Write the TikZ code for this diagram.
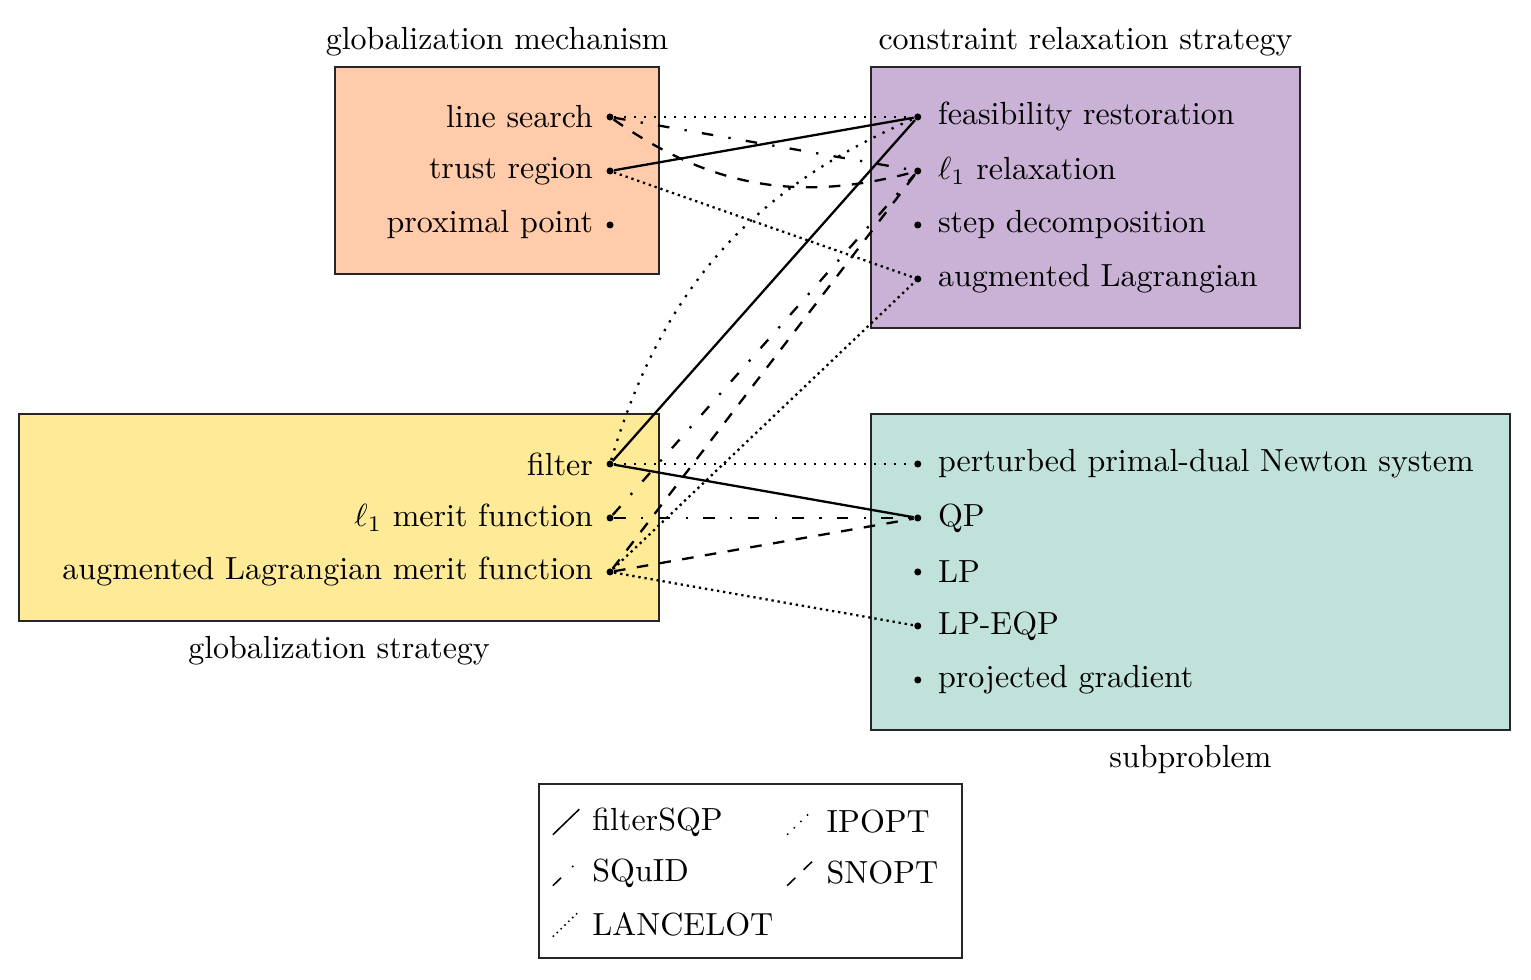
\documentclass[tikz,border=0pt]{standalone}
\usetikzlibrary{positioning}

\definecolor{mechcol}{HTML}{FFCBAA}
\definecolor{relaxcol}{HTML}{CAB2D6}
\definecolor{stratcol}{HTML}{FFEA98}
\definecolor{subcol}{HTML}{C1E1DB}

\tikzset{
  dot/.style={circle, fill, inner sep=0pt, minimum size=2.2pt},
  box/.style={draw=black!85, line width=0.5pt},
  link/.style={line width=0.72pt},
  legline/.style={line width=0.48pt},
  sqp/.style={solid},
  squid/.style={dash pattern=on 3.6pt off 4.8pt on \pgflinewidth off 4.8pt},
  lancelot/.style={dash pattern=on \pgflinewidth off 1.2pt},
  ipopt/.style={dash pattern=on \pgflinewidth off 2.4pt},
  snopt/.style={dash pattern=on 3.6pt off 3.6pt},
}

\begin{document}
\begin{tikzpicture}[node distance=0.593cm]
  \useasboundingbox (0,0) rectangle (16.815,-10.763);

  % the four boxes
  \draw[box, fill=mechcol] (3.679,-0.736) rectangle (7.238,-3.009);
  \draw[box, fill=relaxcol] (9.566,-0.736) rectangle (14.278,-3.602);
  \draw[box, fill=stratcol] (0.209,-4.547) rectangle (7.238,-6.820);
  \draw[box, fill=subcol] (9.566,-4.547) rectangle (16.584,-8.018);

  \node[above] (mechtitle) at (5.459,-0.736) {globalization mechanism};
  \node[above] (relaxtitle) at (11.922,-0.736) {constraint relaxation strategy};
  \node[below=1.2pt] (strattitle) at (3.724,-6.820) {globalization strategy};
  \node[below=1.2pt] (subtitle) at (13.075,-8.018) {subproblem};

  % globalization mechanism
  \node[dot, label={[label distance=0.5pt]left:line search}] (ls) at (6.70,-1.285) {};
  \node[dot, label={[label distance=0.5pt]left:trust region}] (tr) [below of=ls] {};
  \node[dot, label={[label distance=0.5pt]left:proximal point}] (pp) [below of=tr] {};

  % constraint relaxation strategy
  \node[dot, label={[label distance=1.5pt]right:feasibility restoration}] (fr) at (10.08,-1.285) {};
  \node[dot, label={[label distance=1.5pt]right:$\ell_1$ relaxation}] (l1r) [below of=fr] {};
  \node[dot, label={[label distance=1.5pt]right:step decomposition}] (sd) [below of=l1r] {};
  \node[dot, label={[label distance=1.5pt]right:augmented Lagrangian}] (al) [below of=sd] {};

  % globalization strategy
  \node[dot, label={[label distance=0.5pt]left:filter}] (f) at (6.70,-5.096) {};
  \node[dot, label={[label distance=0.5pt]left:$\ell_1$ merit function}] (l1m) [below of=f] {};
  \node[dot, label={[label distance=0.5pt]left:augmented Lagrangian merit function}] (alm) [below of=l1m] {};

  % subproblem
  \node[dot, label={[label distance=1.5pt]right:perturbed primal-dual Newton system}] (pd) at (10.08,-5.096) {};
  \node[dot, label={[label distance=1.5pt]right:QP}] (qp) [below of=pd] {};
  \node[dot, label={[label distance=1.5pt]right:LP}] (lp) [below of=qp] {};
  \node[dot, label={[label distance=1.5pt]right:LP-EQP}] (lpeqp) [below of=lp] {};
  \node[dot, label={[label distance=1.5pt]right:projected gradient}] (pg) [below of=lpeqp] {};

  % filterSQP
  \path[link] (tr) edge[sqp] (fr);
  \path[link] (f) edge[sqp] (fr);
  \path[link] (f) edge[sqp] (qp);

  % SQuID
  \path[link] (ls) edge[squid] (l1r);
  \path[link] (l1m) edge[squid] (l1r);
  \path[link] (l1m) edge[squid] (qp);

  % LANCELOT
  \path[link] (tr) edge[lancelot] (al);
  \path[link] (alm) edge[lancelot] (al);
  \path[link] (alm) edge[lancelot] (lpeqp);

  % IPOPT
  \path[link] (ls) edge[ipopt] (fr);
  \path[link] (f) edge[ipopt, bend left=25] (fr);
  \path[link] (f) edge[ipopt] (pd);

  % SNOPT
  \path[link] (ls) edge[snopt, bend right=25] (l1r);
  \path[link] (alm) edge[snopt] (l1r);
  \path[link] (alm) edge[snopt] (qp);

  % legend
  \draw[box] (5.920,-8.611) rectangle (10.566,-10.522);
  \node[anchor=west] (lgsqp) at (6.382,-9.028) {filterSQP};
  \node[anchor=west] (lgsquid) at (6.382,-9.588) {SQuID};
  \node[anchor=west] (lglancelot) at (6.382,-10.148) {LANCELOT};
  \node[anchor=west] (lgipopt) at (8.955,-9.028) {IPOPT};
  \node[anchor=west] (lgsnopt) at (8.955,-9.588) {SNOPT};
  \draw[legline, sqp] ([xshift=-0.31cm, yshift=-0.14cm]lgsqp.west) -- ++(0.29,0.28);
  \draw[legline, squid] ([xshift=-0.31cm, yshift=-0.14cm]lgsquid.west) -- ++(0.29,0.28);
  \draw[legline, lancelot] ([xshift=-0.31cm, yshift=-0.14cm]lglancelot.west) -- ++(0.29,0.28);
  \draw[legline, ipopt] ([xshift=-0.31cm, yshift=-0.14cm]lgipopt.west) -- ++(0.29,0.28);
  \draw[legline, snopt] ([xshift=-0.31cm, yshift=-0.14cm]lgsnopt.west) -- ++(0.29,0.28);
\end{tikzpicture}
\end{document}
